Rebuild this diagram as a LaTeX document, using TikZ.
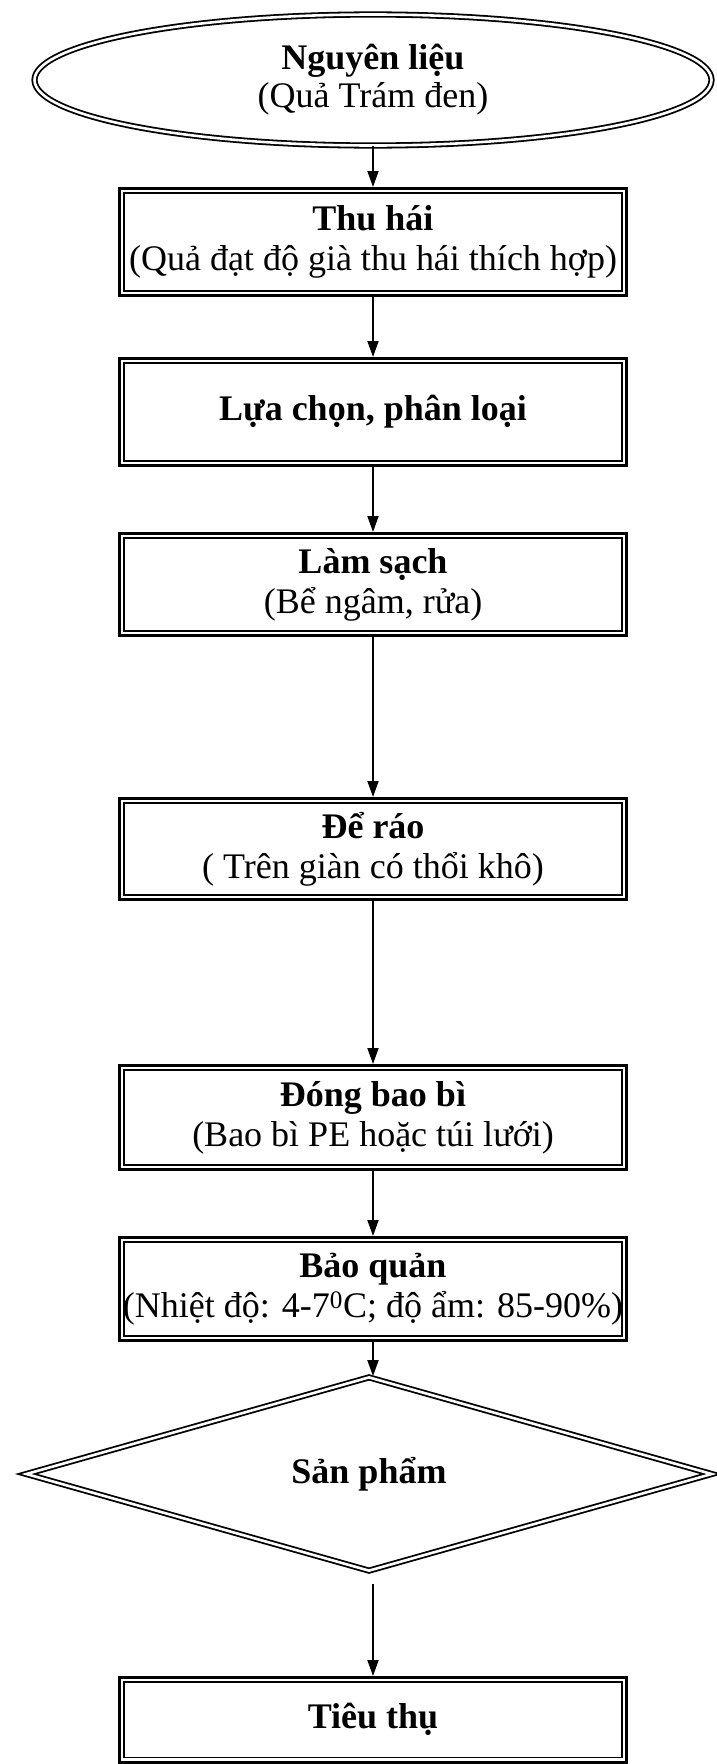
\documentclass[tikz,border=0pt]{standalone}
\usepackage{fontspec}
\setmainfont{Liberation Serif}
\usetikzlibrary{shapes.geometric}
\usetikzlibrary{arrows.meta}

\begin{document}
\begin{tikzpicture}[x=1pt, y=-1pt,
    stepbox/.style={draw, line width=3pt, minimum width=507pt, align=center,
        inner sep=0pt, font=\fontsize{36}{40}\selectfont},
    startnode/.style={draw, ellipse, double, double distance=2.6pt, line width=1.8pt,
        minimum width=677pt, minimum height=131pt, align=center, inner sep=0pt,
        font=\fontsize{36}{38}\selectfont},
    endnode/.style={draw, diamond, double, double distance=2.6pt, line width=1.8pt,
        minimum width=686pt, minimum height=194pt, inner sep=0pt,
        font=\fontsize{36}{40}\selectfont},
    flow/.style={line width=1.8pt, -{Triangle[length=16pt, width=11pt]}}]

    \useasboundingbox (0,0) rectangle (716,1764);

    % start
    \node[startnode] (nguyenlieu) at (373,80) {\textbf{Nguyên liệu}\\(Quả Trám đen)};

    % steps
    \node[stepbox, minimum height=107pt] (thuhai) at (373,242)
        {\textbf{Thu hái}\\(Quả đạt độ già thu hái thích hợp)};

    \node[stepbox, minimum height=107pt] (luachon) at (373,412)
        {\textbf{Lựa chọn, phân loại}};

    \node[stepbox, minimum height=102pt] (lamsach) at (373,584.5)
        {\textbf{Làm sạch}\\(Bể ngâm, rửa)};

    \node[stepbox, minimum height=101pt] (derao) at (373,849)
        {\textbf{Để ráo}\\( Trên giàn có thổi khô)};

    \node[stepbox, minimum height=104pt] (dongbaobi) at (373,1117.5)
        {\textbf{Đóng bao bì}\\(Bao bì PE hoặc túi lưới)};

    \node[stepbox, minimum height=103pt] (baoquan) at (373,1289)
        {\textbf{Bảo quản}\\(Nhiệt độ: 4-7\textsuperscript{0}C; độ ẩm: 85-90\%)};

    % product
    \node[endnode] (sanpham) at (369,1474) {\textbf{Sản phẩm}};

    \node[stepbox, minimum height=84.5pt] (tieuthu) at (373,1719.75)
        {\textbf{Tiêu thụ}};

    % inner lines of the boxes
    \foreach \n in {thuhai, luachon, lamsach, derao, dongbaobi, baoquan, tieuthu}
        \draw[line width=1.5pt] ([shift={(6pt,-6pt)}]\n.north west) rectangle ([shift={(-6pt,6pt)}]\n.south east);

    % arrows
    \draw[flow] (nguyenlieu.south) -- (thuhai.north);
    \draw[flow] (thuhai.south) -- (luachon.north);
    \draw[flow] (luachon.south) -- (lamsach.north);
    \draw[flow] (lamsach.south) -- (derao.north);
    \draw[flow] (derao.south) -- (dongbaobi.north);
    \draw[flow] (dongbaobi.south) -- (baoquan.north);
    \draw[flow] (baoquan.south) -- (baoquan.south |- sanpham.north);
    \draw[flow, shorten <=12pt] (sanpham.south -| tieuthu.north) -- (tieuthu.north);

\end{tikzpicture}
\end{document}
